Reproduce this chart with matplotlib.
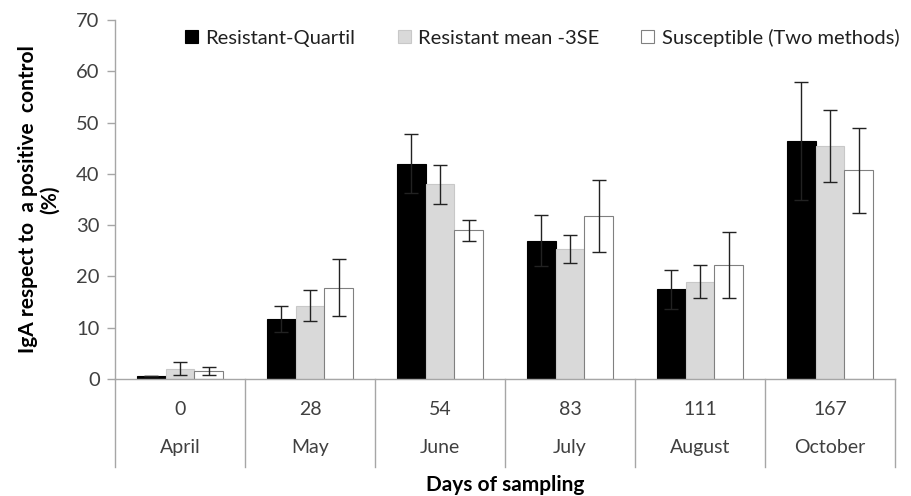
import numpy as np
import matplotlib.pyplot as plt
import matplotlib.transforms as mtransforms

plt.rcParams['font.family'] = ['Lato', 'DejaVu Sans']

days = ["0", "28", "54", "83", "111", "167"]
months = ["April", "May", "June", "July", "August", "October"]
series = ["Resistant-Quartil", "Resistant mean -3SE", "Susceptible (Two methods)"]

quartil = [0.5, 11.7, 42.0, 27.0, 17.5, 46.5]
quartil_err = [0.0, 2.5, 5.8, 5.0, 3.8, 11.5]
mean3se = [2.0, 14.3, 38.0, 25.3, 19.0, 45.5]
mean3se_err = [1.3, 3.0, 3.8, 2.7, 3.3, 7.0]
suscept = [1.5, 17.8, 29.0, 31.8, 22.2, 40.7]
suscept_err = [0.8, 5.6, 2.0, 7.0, 6.5, 8.3]

fig = plt.figure(figsize=(9.11, 4.96), dpi=100)
ax = fig.add_axes([115/911, 117/496, 780/911, 359/496])

x = np.arange(len(days))
w = 0.222
axis_grey = '#a6a6a6'
txt = '#404040'

ax.bar(x - w, quartil, w, yerr=quartil_err, color='black', edgecolor='black',
       linewidth=0.8, capsize=5, error_kw=dict(elinewidth=1, capthick=1, ecolor='#222222'),
       label=series[0])
ax.bar(x, mean3se, w, yerr=mean3se_err, color='#d9d9d9', edgecolor='#c8c8c8',
       linewidth=0.8, capsize=5, error_kw=dict(elinewidth=1, capthick=1, ecolor='#222222'),
       label=series[1])
ax.bar(x + w, suscept, w, yerr=suscept_err, color='white', edgecolor='#808080',
       linewidth=0.8, capsize=5, error_kw=dict(elinewidth=1, capthick=1, ecolor='#222222'),
       label=series[2])

ax.set_xlim(-0.5, len(days) - 0.5)
ax.set_ylim(0, 70)
ax.set_yticks(range(0, 71, 10))
ax.tick_params(axis='y', labelsize=14.5, colors=axis_grey, labelcolor=txt,
               length=6, width=1, pad=5)
ax.set_xticks([])
for s in ['top', 'right']:
    ax.spines[s].set_visible(False)
for s in ['left', 'bottom']:
    ax.spines[s].set_color(axis_grey)
    ax.spines[s].set_linewidth(1)

# two-level category axis
trans = mtransforms.blended_transform_factory(ax.transData, ax.transAxes)
for b in np.arange(-0.5, len(days), 1.0):
    ax.plot([b, b], [0, -0.245], transform=trans, color=axis_grey, lw=1, clip_on=False)
for i in range(len(days)):
    ax.text(x[i], -0.086, days[i], transform=trans, ha='center', va='center',
            fontsize=14, color=txt)
    ax.text(x[i], -0.192, months[i], transform=trans, ha='center', va='center',
            fontsize=14, color=txt)

ax.text(0.5, -0.295, "Days of sampling", transform=ax.transAxes, ha='center',
        va='center', fontsize=15, fontweight='bold', color='black')
ax.set_ylabel("IgA respect to  a positive  control\n(%)", fontsize=15,
              fontweight='bold', labelpad=12, linespacing=1.1)

ax.legend(loc='upper left', bbox_to_anchor=(0.072, 1.015), ncol=3, frameon=False,
          fontsize=14.5, handlelength=0.65, handleheight=0.65, handletextpad=0.35,
          columnspacing=2.1, labelcolor='#202020', borderaxespad=0.3)

fig.savefig("out.png", dpi=100)
